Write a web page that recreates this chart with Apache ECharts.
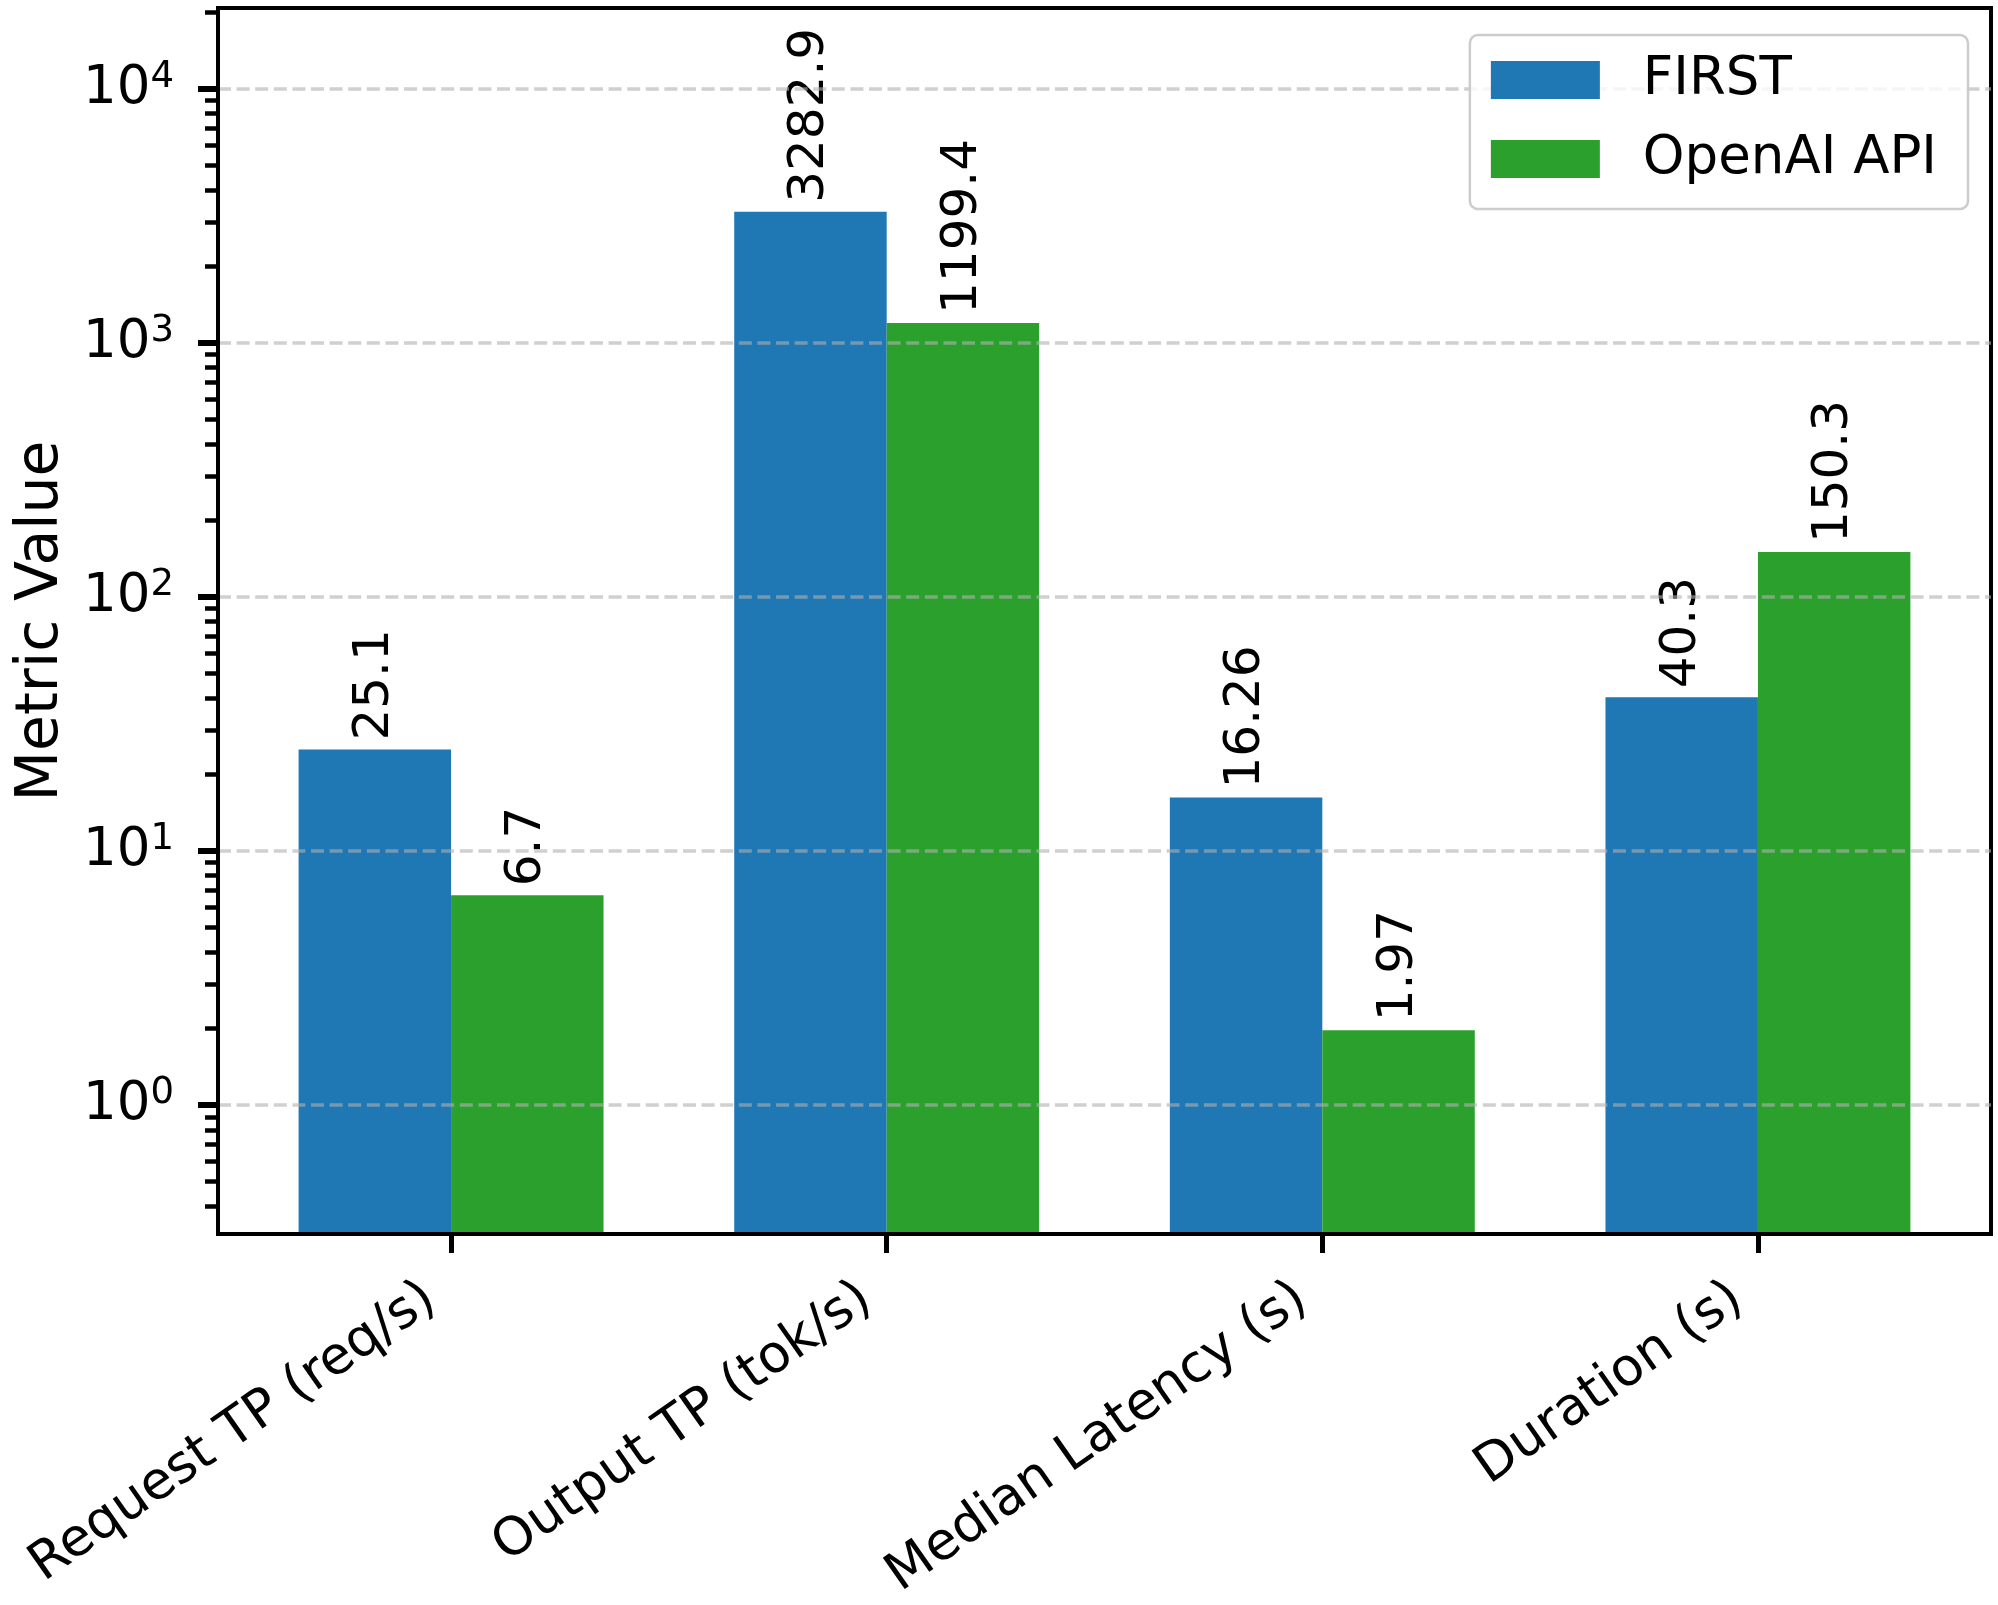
<!DOCTYPE html>
<html>
<head>
<meta charset="utf-8">
<script src="https://cdn.jsdelivr.net/npm/echarts@6/dist/echarts.min.js"></script>
<style>
html, body { margin: 0; padding: 0; background: #ffffff; }
#chart { width: 1998px; height: 1605px; }
</style>
</head>
<body>
<div id="chart"></div>
<script>
// ---- data ----
const categories = ['Request TP (req/s)', 'Output TP (tok/s)', 'Median Latency (s)', 'Duration (s)'];
const seriesNames = ['FIRST', 'OpenAI API'];
const firstValues = [25.1, 3282.9, 16.26, 40.3];
const openaiValues = [6.7, 1199.4, 1.97, 150.3];
const yMajorTicks = [1, 10, 100, 1000, 10000];
const yMinorTicks = [0.4, 0.5, 0.6, 0.7, 0.8, 0.9,
  2, 3, 4, 5, 6, 7, 8, 9,
  20, 30, 40, 50, 60, 70, 80, 90,
  200, 300, 400, 500, 600, 700, 800, 900,
  2000, 3000, 4000, 5000, 6000, 7000, 8000, 9000,
  20000];
const yMin = 0.311, yMax = 20830;
const xMin = -0.535, xMax = 3.535;

// ---- style ----
const FONT = 'DejaVu Sans';
const labelShift = -0.046;  // anchor offset of rotated category labels (in axis units)
const colors = ['#1f77b4', '#2ca02c'];

const xTickValues = categories.map((c, i) => i);
const xLabelValues = categories.map((c, i) => i + labelShift);

const chart = echarts.init(document.getElementById('chart'), null, { renderer: 'canvas' });

function toPairs(arr) { return arr.map((v, i) => [i, v]); }

const barLabel = {
  show: true,
  position: 'top',
  rotate: 90,
  align: 'left',
  verticalAlign: 'middle',
  distance: 9,
  fontFamily: FONT,
  fontSize: 50,
  color: '#000',
  formatter: p => String(p.value[1])
};

const option = {
  backgroundColor: '#ffffff',
  animation: false,
  textStyle: { fontFamily: FONT },
  grid: {
    left: 218, right: 7, top: 8, bottom: 371,
    containLabel: false,
    outerBoundsMode: 'none',
    show: true,
    borderColor: '#000',
    borderWidth: 4,
    backgroundColor: 'transparent'
  },
  legend: {
    data: seriesNames,
    orient: 'vertical',
    right: 30,
    top: 35,
    z: 10,
    padding: [17, 31, 22, 21],
    itemWidth: 109,
    itemHeight: 38,
    itemGap: 23,
    icon: 'rect',
    backgroundColor: 'rgba(255,255,255,0.8)',
    borderColor: '#cccccc',
    borderWidth: 2.5,
    borderRadius: 8,
    textStyle: {
      fontFamily: FONT, fontSize: 53, color: '#000',
      lineHeight: 56, padding: [0, 0, 0, 38]
    }
  },
  xAxis: {
    type: 'value',
    min: xMin,
    max: xMax,
    z: 3,
    axisLine: { show: true, onZero: false, lineStyle: { color: '#000', width: 4 } },
    axisTick: { show: true, customValues: xTickValues, length: 19, lineStyle: { color: '#000', width: 5 } },
    axisLabel: {
      customValues: xLabelValues,
      rotate: 35,
      margin: 60,
      fontFamily: FONT,
      fontSize: 52.5,
      color: '#000',
      formatter: v => categories[Math.round(v)] || ''
    },
    splitLine: { show: false }
  },
  yAxis: [
    {
      type: 'log',
      logBase: 10,
      min: yMin,
      max: yMax,
      startValue: yMin,
      position: 'left',
      z: 3,
      name: 'Metric Value',
      nameLocation: 'middle',
      nameRotate: 90,
      nameGap: 147,
      nameMoveOverlap: false,
      nameTextStyle: { fontFamily: FONT, fontSize: 58.5, color: '#000' },
      axisLine: { show: true, onZero: false, lineStyle: { color: '#000', width: 4 } },
      axisTick: { show: true, customValues: yMajorTicks, length: 20, lineStyle: { color: '#000', width: 6 } },
      axisLabel: {
        customValues: yMajorTicks,
        margin: 44,
        color: '#000',
        formatter: v => '{b|10}{s|' + Math.round(Math.log10(v)) + '}',
        rich: {
          b: { fontFamily: FONT, fontSize: 53, lineHeight: 60, verticalAlign: 'middle', color: '#000' },
          s: { fontFamily: FONT, fontSize: 37, lineHeight: 34, verticalAlign: 'top', color: '#000' }
        }
      },
      splitLine: {
        show: true,
        lineStyle: { color: 'rgba(176,176,176,0.6)', width: 3.5, type: [13, 5.6] }
      }
    },
    {
      type: 'log',
      logBase: 10,
      min: yMin,
      max: yMax,
      position: 'left',
      z: 3,
      axisLine: { show: false, onZero: false },
      axisTick: { show: true, customValues: yMinorTicks, length: 13, lineStyle: { color: '#000', width: 4.5 } },
      axisLabel: { show: false },
      splitLine: { show: false }
    }
  ],
  series: [
    {
      name: seriesNames[0],
      type: 'bar',
      yAxisIndex: 0,
      data: toPairs(firstValues),
      barWidth: '35%',
      barGap: '0%',
      itemStyle: { color: colors[0] },
      label: barLabel
    },
    {
      name: seriesNames[1],
      type: 'bar',
      yAxisIndex: 0,
      data: toPairs(openaiValues),
      barWidth: '35%',
      barGap: '0%',
      itemStyle: { color: colors[1] },
      label: barLabel
    }
  ]
};

chart.setOption(option);
</script>
</body>
</html>
